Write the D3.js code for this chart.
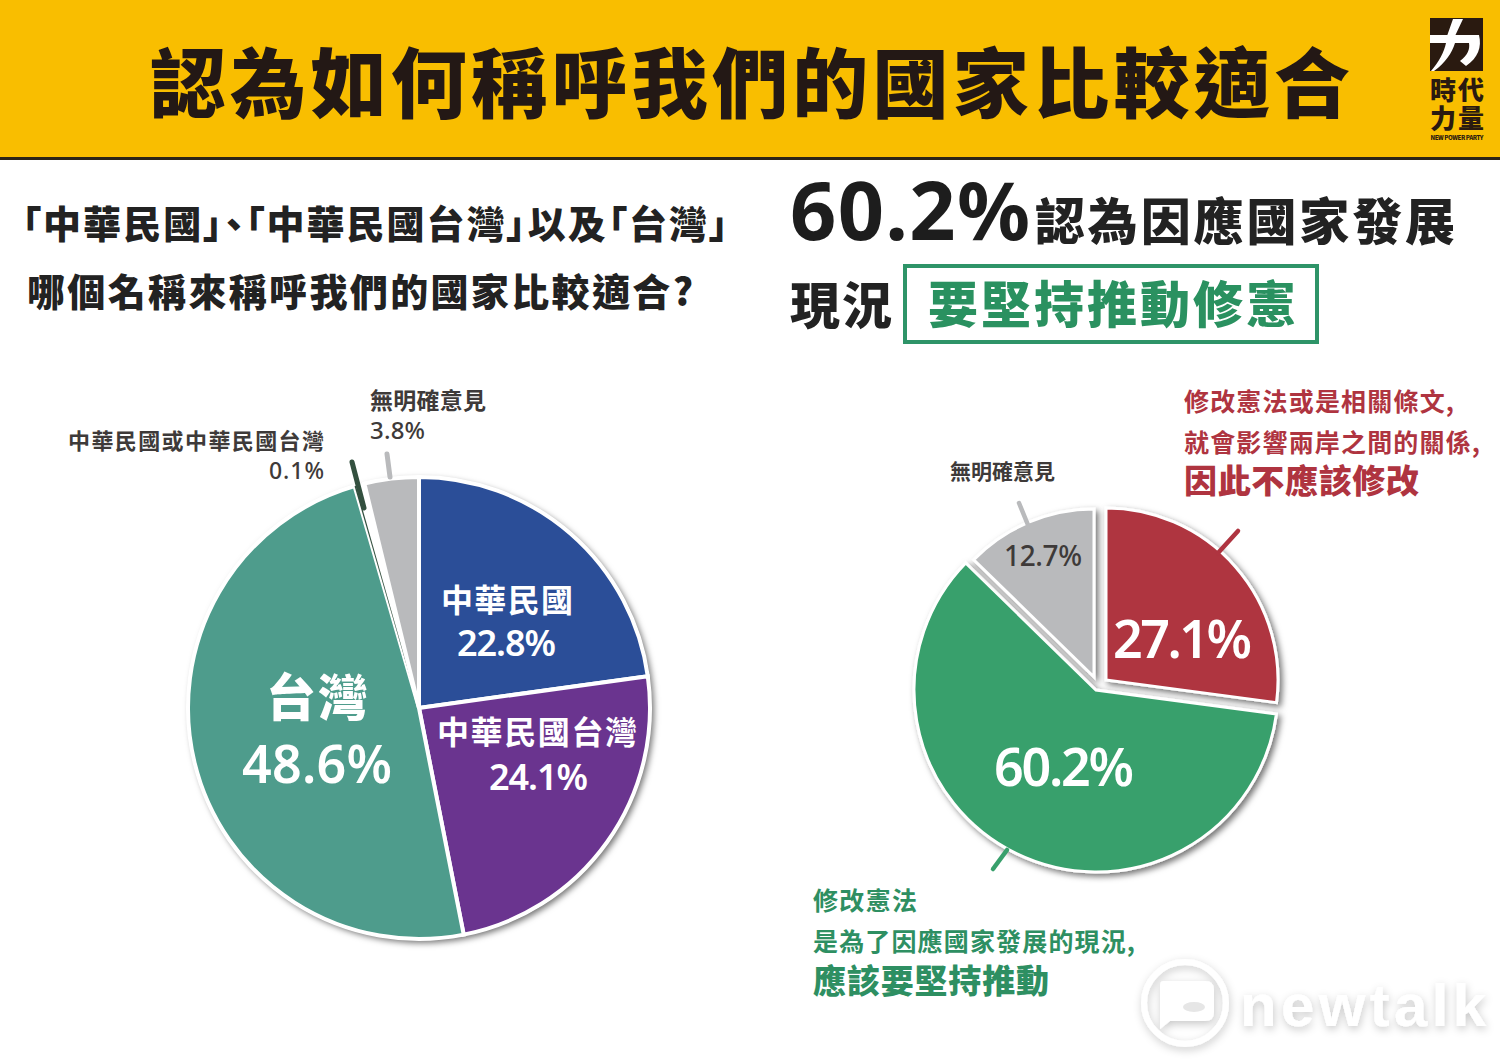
<![CDATA[<!DOCTYPE html>
<html lang="zh-Hant"><head><meta charset="utf-8">
<script src="https://cdn.jsdelivr.net/npm/d3@7/dist/d3.min.js"></script>
<style>html,body{margin:0;padding:0;background:#fff;overflow:hidden}svg{display:block}text{font-family:"Noto Sans CJK TC","Noto Sans",sans-serif}</style>
</head><body><svg id="c" width="1500" height="1062"></svg><script>
const leftCategories = ["中華民國","中華民國台灣","台灣","中華民國或中華民國台灣","無明確意見"];
const leftValues = [22.8,24.1,48.6,0.1,3.8];
const rightCategories = ["修改憲法或是相關條文,就會影響兩岸之間的關係,因此不應該修改","修改憲法是為了因應國家發展的現況,應該要堅持推動","無明確意見"];
const rightValues = [27.1,60.2,12.7];
const leftColors = ["#2B4E98","#6A348F","#4E9C8C","#33503F","#B9BABC"];
const rightColors = ["#AF3440","#38A06C","#B9BABC"];

const svg = d3.select("#c");
const defs = svg.append("defs");
const sh = defs.append("filter").attr("id","sh").attr("x","-10%").attr("y","-10%").attr("width","125%").attr("height","125%");
sh.append("feDropShadow").attr("dx",3).attr("dy",3).attr("stdDeviation",3).attr("flood-color","#000").attr("flood-opacity",.55);
const wm = defs.append("filter").attr("id","wm").attr("x","-10%").attr("y","-20%").attr("width","125%").attr("height","150%");
wm.append("feDropShadow").attr("dx",1).attr("dy",3).attr("stdDeviation",4).attr("flood-color","#000").attr("flood-opacity",.22);

const NUM = "'Noto Sans',sans-serif";
function T(s,x,y,size,o={}){
  const t = svg.append("text").attr("x",x).attr("y",y).attr("font-size",size)
    .attr("font-weight",o.w||700).attr("fill",o.c||"#222").attr("text-anchor",o.a||"start").text(s);
  if(o.len){t.attr("textLength",o.len).attr("lengthAdjust","spacing");}
  if(o.f){t.style("font-family",o.f);}
  if(o.palt){t.style("font-feature-settings",'"palt"');}
  return t;
}
// banner
svg.append("rect").attr("width",1500).attr("height",158).attr("fill","#F9BE00");
svg.append("rect").attr("y",157).attr("width",1500).attr("height",3).attr("fill","#2b2417");
T("認為如何稱呼我們的國家比較適合",150,112,76,{w:900,c:"#231815",len:1200});
// logo
const lg = svg.append("g");
lg.append("rect").attr("x",1430).attr("y",18).attr("width",53).attr("height",53).attr("fill","#2a1a10");
lg.append("path").attr("d","M1430 35H1479C1482 47 1478 58 1466 66L1460 61C1468 55 1470 49 1469 43H1455C1452 53 1445 63 1434 71H1431C1439 62 1444 52 1446 43H1430Z M1453 19H1463L1455 36H1447Z").attr("fill","#fff");
T("時代",1457,100,26,{w:900,c:"#2a1a10",a:"middle",len:54});
T("力量",1457,128,26,{w:900,c:"#2a1a10",a:"middle",len:54});
T("NEW POWER PARTY",1457,140,6,{w:900,c:"#2a1a10",a:"middle",len:53});
// headings
T("「中華民國」、「中華民國台灣」以及「台灣」",22,238,38,{w:900,len:706,palt:1});
T("哪個名稱來稱呼我們的國家比較適合?",27,306,38,{w:900,len:666});
T("60.2%",790,240,81,{w:700,len:240,c:"#1d1d1d",f:NUM});
T("認為因應國家發展",1035,240,50,{w:900,len:420});
T("現況",790,324,50,{w:900,len:102});
svg.append("rect").attr("x",905).attr("y",266).attr("width",412).attr("height",76).attr("fill","none").attr("stroke","#2E9468").attr("stroke-width",4);
T("要堅持推動修憲",928,323,50,{w:900,c:"#2A9160",len:368});

// pies
const pie = d3.pie().sort(null).value(d=>d);
// left pie: the printed values leave a remainder of 100, shown as an empty gap before the last slice
const remainder = 100 - d3.sum(leftValues);
const leftShown = [...leftValues.slice(0,4), remainder, leftValues[4]];
const leftFills = [...leftColors.slice(0,4), "none", leftColors[4]];
const L = svg.append("g").attr("transform","translate(419,708)");
const lArc = d3.arc().innerRadius(0).outerRadius(231);
L.append("circle").attr("r",232).attr("fill","#fff").attr("filter","url(#sh)");
L.selectAll("path").data(pie(leftShown)).join("path").attr("d",lArc)
 .attr("fill",(d,i)=>leftFills[i]).attr("stroke",(d,i)=>(i==3||i==4)?"none":"#fff").attr("stroke-width",4);
// right pie
const R = svg.append("g");
const rOff = [[8,-8],[-2,2],[-4,-11]], rRad = [172,182,168];
pie(rightValues).forEach((d,i)=>{
  const a = d3.arc().innerRadius(0).outerRadius(rRad[i]);
  R.append("path").attr("transform",`translate(${1098+rOff[i][0]},${688+rOff[i][1]})`).attr("d",a(d))
   .attr("fill",rightColors[i]).attr("stroke","#fff").attr("stroke-width",3).attr("filter","url(#sh)");
});
// leader lines
function line(x1,y1,x2,y2,c,w){svg.append("line").attr("x1",x1).attr("y1",y1).attr("x2",x2).attr("y2",y2).attr("stroke",c).attr("stroke-width",w).attr("stroke-linecap","round");}
line(387,454,390,477,"#B9BABC",5);
line(352,462,364,508,"#33503F",5);
line(1238,531,1218,553,"#AF3440",4.5);
line(1019,503,1028,525,"#B9BABC",4.5);
line(1007,850,993,869,"#38A06C",4.5);
// left labels
const W="#fff", G="#3e3a39";
T("中華民國",441,612,32,{w:700,c:W,len:132});
T("22.8%",457,656,36,{w:600,c:W,len:99,f:NUM});
T("中華民國台灣",437,744,32,{w:700,c:W,len:200});
T("24.1%",489,790,36,{w:600,c:W,len:99,f:NUM});
T("台灣",266,716,50,{w:900,c:W,len:102});
T("48.6%",242,783,52,{w:600,c:W,len:150,f:NUM});
T("無明確意見",370,409,23,{w:700,c:G,len:116});
T("3.8%",370,439,24,{w:500,c:G,len:55,f:NUM});
T("中華民國或中華民國台灣",68,449,22,{w:700,c:G,len:256});
T("0.1%",269,479,23,{w:500,c:G,len:55,f:NUM});
// right labels
T("27.1%",1113,658,52,{w:600,c:W,len:139,f:NUM});
T("60.2%",994,786,52,{w:600,c:W,len:140,f:NUM});
T("12.7%",1004,566,28,{w:500,c:G,len:78,f:NUM});
T("無明確意見",950,479,21,{w:700,c:G,len:105});
const RED="#AF3440",GR="#2E8F62";
T("修改憲法或是相關條文,",1184,411,25,{w:700,c:RED,len:270});
T("就會影響兩岸之間的關係,",1184,452,25,{w:700,c:RED,len:296});
T("因此不應該修改",1184,493,33,{w:900,c:RED,len:235});
T("修改憲法",813,910,25,{w:700,c:GR,len:104});
T("是為了因應國家發展的現況,",813,951,25,{w:700,c:GR,len:322});
T("應該要堅持推動",813,993,33,{w:900,c:GR,len:236});
// watermark
const M = svg.append("g").attr("filter","url(#wm)");
M.append("circle").attr("cx",1185).attr("cy",1003).attr("r",41).attr("fill","none").attr("stroke","#fff").attr("stroke-width",6);
M.append("path").attr("d","M1164 981H1205Q1214 981 1214 990V1012Q1214 1021 1205 1021H1170L1160 1029V986Q1160 981 1164 981Z").attr("fill","#fff");
M.append("ellipse").attr("cx",1194).attr("cy",1007).attr("rx",11).attr("ry",5).attr("fill","#e6e6e6");
M.append("text").attr("x",1240).attr("y",1026).attr("font-size",60).attr("font-weight",700).attr("fill","#fff").attr("textLength",246).attr("lengthAdjust","spacing").style("font-family","'Liberation Sans'").text("newtalk");
document.currentScript.remove();
</script></body></html>]]>
